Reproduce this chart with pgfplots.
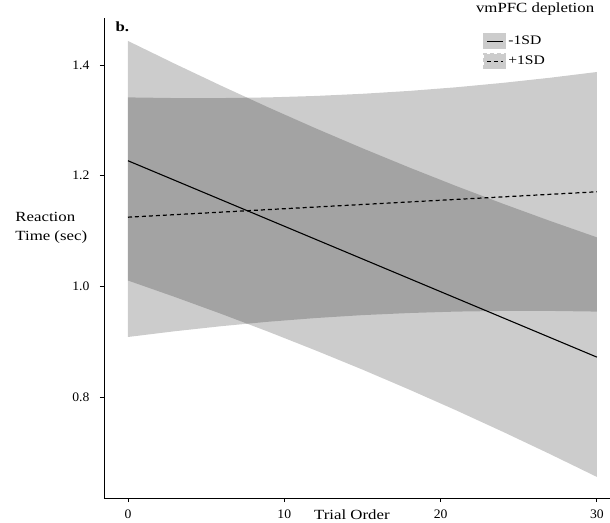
\documentclass[border=0pt]{standalone}
\usepackage{pgfplots}
\pgfplotsset{compat=1.18}
\usepgfplotslibrary{fillbetween}
\usepackage{pgfplotstable}
\usepackage{fontspec}
\setmainfont{Liberation Serif}[FakeStretch=1.2]
\newfontfamily\tickfont{Liberation Serif}[FakeStretch=1.05]

% confidence bands
\pgfplotstableread{
x   lo      hi
0   1.0105  1.4435
3   0.9808  1.4022
6   0.9499  1.3621
9   0.9178  1.3232
12  0.8843  1.2857
15  0.8496  1.2496
18  0.8134  1.2148
21  0.7759  1.1813
24  0.7370  1.1492
27  0.6969  1.1183
30  0.6556  1.0886
}\lowsd
\pgfplotstableread{
x   lo      hi
0   0.9085  1.3415
3   0.9189  1.3403
6   0.9281  1.3403
9   0.9361  1.3415
12  0.9427  1.3441
15  0.9480  1.3480
18  0.9518  1.3532
21  0.9544  1.3598
24  0.9556  1.3678
27  0.9556  1.3770
30  0.9544  1.3874
}\highsd

\begin{document}
\begin{tikzpicture}
\begin{axis}[
    scale only axis,
    width=506pt,height=480pt,
    clip=false,
    xmin=-1.535,xmax=30.84,
    ymin=0.6175,ymax=1.485,
    axis x line*=bottom,axis y line*=left,
    axis line style={line width=0.9pt,-},
    tick align=outside,
    major tick length=4pt,
    tick style={line width=0.8pt,black},
    xtick={0,10,20,30},
    ytick={0.8,1.0,1.2,1.4},
    yticklabel style={/pgf/number format/fixed,/pgf/number format/zerofill,
        /pgf/number format/precision=1,xshift=-7pt},
    tick label style={/pgf/number format/assume math mode=true,
        font=\tickfont\fontsize{13}{15}\selectfont},
    xticklabel style={yshift=-4pt},
    xlabel={Trial Order},
    xlabel style={at={(axis description cs:0.49,0)},anchor=center,yshift=-17pt,
        font=\fontsize{14}{16}\selectfont},
    ylabel={Reaction\\Time (sec)},
    ylabel style={rotate=-90,align=left,anchor=west,
        at={(axis description cs:-0.182,0.5625)},
        font=\fontsize{14}{19}\selectfont},
    legend style={draw=none,fill=none,inner sep=0pt,
        at={(axis description cs:0.749,0.969)},anchor=north west,
        font=\fontsize{13}{15}\selectfont,row sep=4pt},
    legend cell align=left,
    legend image code/.code={
        \fill[black!20] (0pt,-7.5pt) rectangle (22pt,7.5pt);
        \draw[#1] (3pt,0pt) -- (19pt,0pt);
    },
]
\addplot[draw=none,name path=lh,forget plot] table[x=x,y=hi]{\lowsd};
\addplot[draw=none,name path=ll,forget plot] table[x=x,y=lo]{\lowsd};
\addplot[draw=none,name path=hh,forget plot] table[x=x,y=hi]{\highsd};
\addplot[draw=none,name path=hl,forget plot] table[x=x,y=lo]{\highsd};
\addplot[fill=black,fill opacity=0.2,draw=none,forget plot] fill between[of=lh and ll];
\addplot[fill=black,fill opacity=0.2,draw=none,forget plot] fill between[of=hh and hl];

\addplot[black,line width=1.1pt] coordinates {(0,1.2270) (30,0.8721)};
\addlegendentry{-1SD}
\addplot[black,line width=1.2pt,dash pattern=on 4pt off 3pt]
    coordinates {(0,1.1250) (30,1.1709)};
\addlegendentry{+1SD}

\node[anchor=west,font=\fontsize{14}{16}\selectfont\bfseries]
    at (axis description cs:0.016,0.981) {b.};
\node[anchor=base,font=\fontsize{14}{16}\selectfont]
    at (axis description cs:0.852,1.0104) {vmPFC depletion};
\end{axis}
\pgfresetboundingbox
\useasboundingbox (-104pt,-24pt) rectangle (506pt,498pt);
\end{tikzpicture}
\end{document}
